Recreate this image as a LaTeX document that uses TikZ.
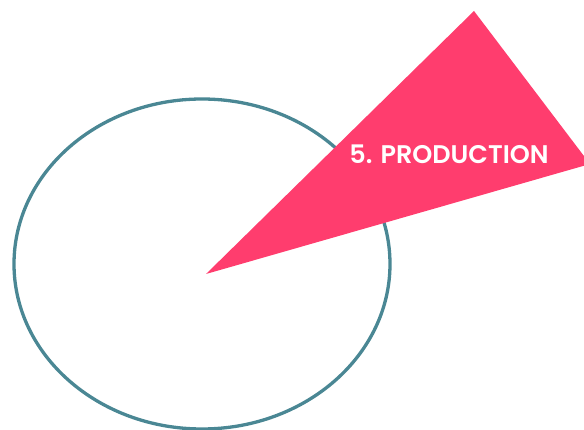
\documentclass[tikz,border=0pt]{standalone}
\usepackage{fontspec}
\newfontfamily\labelfont{Poppins}[UprightFont=* SemiBold]
\definecolor{teal}{HTML}{4A8794}
\definecolor{pinkred}{HTML}{FF3D6E}
\tikzset{
  ring/.style={draw=teal, line width=3.3pt},
  wedge/.style={fill=pinkred, draw=none},
  title/.style={text=white, font=\labelfont\fontsize{25.5}{30}\selectfont, inner sep=0pt}
}
\begin{document}
\begin{tikzpicture}[x=1pt, y=-1pt]
\useasboundingbox (0,0) rectangle (584,430);
\clip (0,0) rectangle (584,430);
\draw[ring] (202,264) ellipse [x radius=188, y radius=165];
\coordinate (tip) at (206,274);
\coordinate (top) at (474,11);
\coordinate (right) at (590,164);
\fill[wedge] (tip) -- (top) -- (right) -- cycle;
\node[title] (lbl) at (449,154) {5. PRODUCTION};
\end{tikzpicture}
\end{document}
